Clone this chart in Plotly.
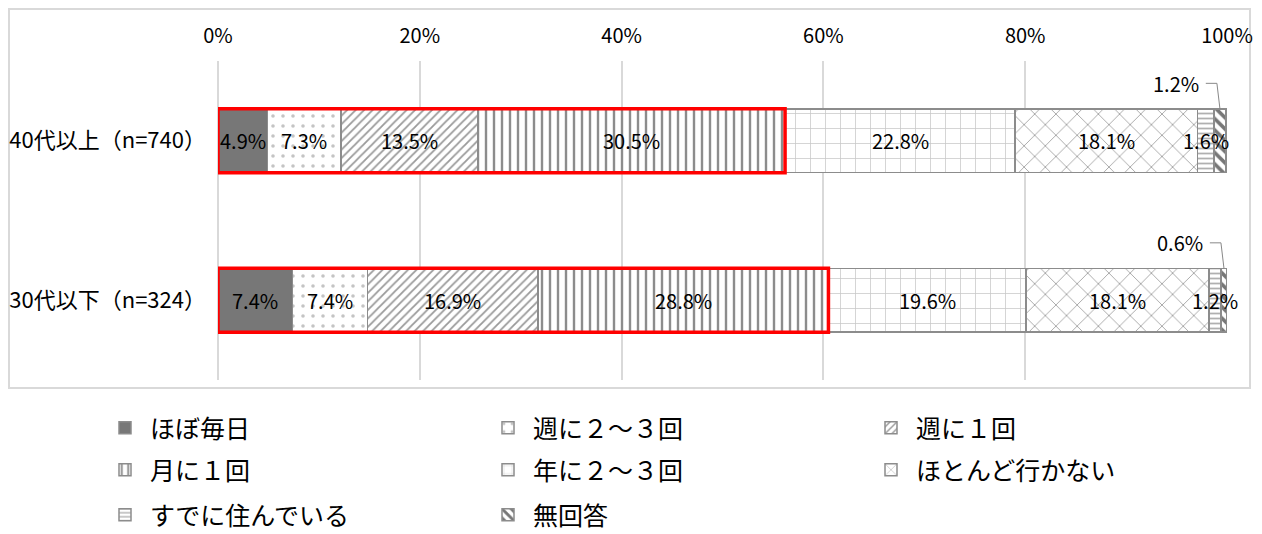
import plotly.graph_objects as go

# data
categories = ["40代以上（n=740）", "30代以下（n=324）"]
series_names = ["ほぼ毎日", "週に２～３回", "週に１回", "月に１回",
                "年に２～３回", "ほとんど行かない", "すでに住んでいる", "無回答"]
age40_values = [4.9, 7.3, 13.5, 30.5, 22.8, 18.1, 1.6, 1.2]
age30_values = [7.4, 7.4, 16.9, 28.8, 19.6, 18.1, 1.2, 0.6]
tick_values = [0, 20, 40, 60, 80, 100]
tick_labels = ["0%", "20%", "40%", "60%", "80%", "100%"]
highlight_count = 4  # first four answers are boxed in red

rows = [age40_values, age30_values]

# (shape, fg, bg, size, solidity) for each answer
styles = [
    ("", "#777777", "#777777", 8, 0.5),
    (".", "#c4c4c4", "#ffffff", 10, 0.1),
    ("/", "#9a9a9a", "#ffffff", 6, 0.3),
    ("|", "#8c8c8c", "#ffffff", 8, 0.3),
    ("+", "#c8c8c8", "#ffffff", 15, 0.1),
    ("x", "#a6a6a6", "#ffffff", 15, 0.12),
    ("-", "#b0b0b0", "#ffffff", 5, 0.35),
    ("\\", "#777777", "#ffffff", 8, 0.45),
]

FONT = "Noto Sans CJK JP"
BORDER = "#8c8c8c"
# page has an 8px body margin, so figure coords are page coords minus 8
W, H = 1254, 526
L, R, T, B = 210, 35, 53, 154
pw, ph = W - L - R, H - T - B


def px_x(p):
    return (p - L) / pw


def px_y(p):
    return (H - B - p) / ph


legend_ids = ["legend", "legend2", "legend3"]

fig = go.Figure()
for i, name in enumerate(series_names):
    shape, fg, bg, size, solidity = styles[i]
    marker = dict(color=bg, line=dict(color=BORDER, width=1.5))
    if shape:
        marker["pattern"] = dict(shape=shape, fgcolor=fg, bgcolor=bg, size=size,
                                 solidity=solidity, fillmode="replace")
    fig.add_trace(go.Bar(
        y=categories,
        x=[r[i] for r in rows],
        orientation="h",
        name=name,
        marker=marker,
        legend=legend_ids[i // 3],
        hoverinfo="skip",
    ))

BAR_HALF = 0.2
annotations = []
shapes = []
for ri, (cat, vals) in enumerate(zip(categories, rows)):
    start = 0.0
    for i, v in enumerate(vals):
        center = start + v / 2
        if i < len(vals) - 1:
            annotations.append(dict(x=center, y=cat, text=f"{v:.1f}%", showarrow=False,
                                    font=dict(family=FONT, size=20, color="black")))
        else:
            # callout above the bar for the thin last segment
            label_y = ri - 0.36
            annotations.append(dict(x=center - 1.9, y=label_y, text=f"{v:.1f}%", showarrow=False,
                                    xanchor="right", yanchor="middle",
                                    font=dict(family=FONT, size=20, color="black")))
            shapes.append(dict(type="line", xref="x", yref="y", x0=center - 1.4, x1=center - 0.3,
                               y0=label_y, y1=label_y, line=dict(color="#888888", width=1)))
            shapes.append(dict(type="line", xref="x", yref="y", x0=center - 0.3, x1=center,
                               y0=label_y, y1=ri - BAR_HALF, line=dict(color="#888888", width=1)))
        start += v
    # red frame around the frequent visitors
    shapes.append(dict(type="rect", xref="x", yref="y", x0=0, x1=sum(vals[:highlight_count]),
                       y0=ri - BAR_HALF, y1=ri + BAR_HALF,
                       line=dict(color="#ff0000", width=3.5), fillcolor="rgba(0,0,0,0)"))

# outer chart frame
shapes.append(dict(type="rect", xref="paper", yref="paper",
                   x0=px_x(1), x1=px_x(1242), y0=px_y(380), y1=px_y(1),
                   line=dict(color="#d9d9d9", width=2), layer="below"))

legend_common = dict(orientation="h", x=px_x(92), xanchor="left", yanchor="middle",
                     entrywidth=328, entrywidthmode="pixels", itemwidth=40,
                     traceorder="normal",
                     font=dict(family=FONT, size=25), bgcolor="rgba(0,0,0,0)")

fig.update_layout(
    width=W, height=H,
    margin=dict(l=L, r=R, t=T, b=B, autoexpand=False),
    barmode="stack",
    bargap=0.6,
    plot_bgcolor="white",
    paper_bgcolor="white",
    font=dict(family=FONT, size=20, color="black"),
    annotations=annotations,
    shapes=shapes,
    xaxis=dict(side="top", range=[0, 100], tickvals=tick_values, ticktext=tick_labels,
               showgrid=True, gridcolor="#d9d9d9", gridwidth=1.5,
               zeroline=True, zerolinecolor="#d9d9d9", zerolinewidth=1.5,
               showline=False, ticks="", ticklabelstandoff=13, automargin=False,
               tickfont=dict(family=FONT, size=20)),
    yaxis=dict(autorange="reversed", showgrid=False, ticks="", ticklabelstandoff=11,
               automargin=False, tickfont=dict(family=FONT, size=22)),
    legend=dict(legend_common, y=px_y(420)),
    legend2=dict(legend_common, y=px_y(462)),
    legend3=dict(legend_common, y=px_y(507)),
    showlegend=True,
)

fig.write_html("out.html")
